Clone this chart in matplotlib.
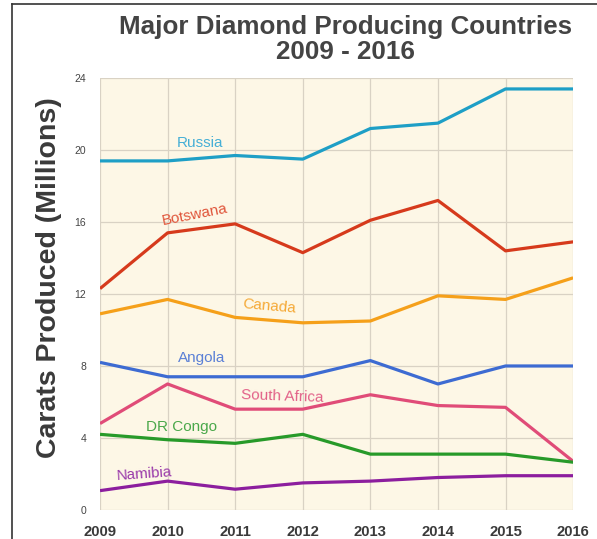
import numpy as np
import matplotlib
matplotlib.use("Agg")
import matplotlib.pyplot as plt
from matplotlib.lines import Line2D

plt.rcParams['font.family'] = ['Liberation Sans', 'DejaVu Sans']

years = [2009, 2010, 2011, 2012, 2013, 2014, 2015, 2016]

russia = [19.4, 19.4, 19.7, 19.5, 21.2, 21.5, 23.4, 23.4]
botswana = [12.3, 15.4, 15.9, 14.3, 16.1, 17.2, 14.4, 14.9]
canada = [10.9, 11.7, 10.7, 10.4, 10.5, 11.9, 11.7, 12.9]
angola = [8.2, 7.4, 7.4, 7.4, 8.3, 7.0, 8.0, 8.0]
south_africa = [4.8, 7.0, 5.6, 5.6, 6.4, 5.8, 5.7, 2.7]
dr_congo = [4.2, 3.9, 3.7, 4.2, 3.1, 3.1, 3.1, 2.65]
namibia = [1.07, 1.6, 1.15, 1.5, 1.6, 1.8, 1.9, 1.9]

y_ticks = [0, 4, 8, 12, 16, 20, 24]

# name, values, line colour, label colour, label x, label y, label rotation
series = [
    ("Russia", russia, "#1e9fc6", "#45afd6", 2010.48, 20.4, 0),
    ("Botswana", botswana, "#d63a1c", "#e0553a", 2010.4, 16.4, 11),
    ("Canada", canada, "#f5a01a", "#f5a936", 2011.5, 11.3, -5),
    ("Angola", angola, "#3d6bd2", "#5b80d6", 2010.5, 8.45, 0),
    ("South Africa", south_africa, "#e04c78", "#e26088", 2011.7, 6.3, -2),
    ("DR Congo", dr_congo, "#279a29", "#4aa84a", 2010.2, 4.6, 0),
    ("Namibia", namibia, "#8c1e9e", "#9a3aaa", 2009.65, 2.0, 4),
]

fig = plt.figure(figsize=(5.97, 5.39), dpi=100)
ax = fig.add_axes([0.1675, 0.054, 0.7925, 0.801])
ax.set_facecolor("#fdf7e6")

for name, vals, col, lcol, lx, ly, rot in series:
    ax.plot(years, vals, color=col, linewidth=2.3, solid_capstyle='butt', zorder=3)
    ax.text(lx, ly, name, color=lcol, fontsize=11, ha='center', va='center',
            rotation=rot, zorder=4)

ax.set_xlim(2009, 2016)
ax.set_ylim(0, 24)
ax.set_xticks(years)
ax.set_yticks(y_ticks)
ax.set_xticklabels([str(y) for y in years], fontsize=10.7, fontweight='bold', color="#3a3a3a")
ax.set_yticklabels([str(v) for v in y_ticks], fontsize=7.5, color="#444444")
ax.tick_params(length=0)
ax.tick_params(axis='x', pad=11)
ax.tick_params(axis='y', pad=10)
ax.grid(True, color="#d9d2c4", linewidth=0.9, zorder=0)
for s in ax.spines.values():
    s.set_visible(False)

ax.set_ylabel("Carats Produced (Millions)", fontsize=20.5, fontweight='bold',
              color="#3a3a3a", va='center')
ax.yaxis.set_label_coords(-0.107, 0.537)

fig.text(0.578, 0.949, "Major Diamond Producing Countries", fontsize=18.7,
         fontweight='bold', color="#444444", ha='center', va='center')
fig.text(0.578, 0.903, "2009 - 2016", fontsize=18.7,
         fontweight='bold', color="#444444", ha='center', va='center')

# outer frame on top and left
fig.add_artist(Line2D([0.02, 1.0], [0.993, 0.993], color="#333333", linewidth=1.2))
fig.add_artist(Line2D([0.02, 0.02], [0.0, 0.993], color="#333333", linewidth=1.2))

fig.savefig("out.png", dpi=100)
